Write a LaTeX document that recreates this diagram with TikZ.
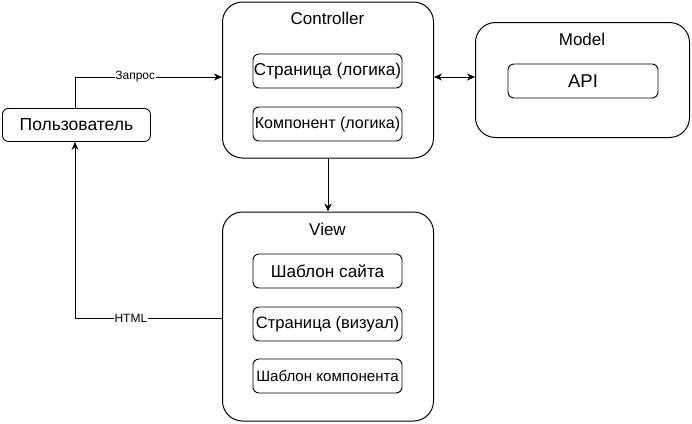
\documentclass[tikz,border=0pt]{standalone}
\usepackage{fontspec}
\setmainfont{Liberation Sans}
\usetikzlibrary{arrows.meta}
\begin{document}
\begin{tikzpicture}[x=1pt,y=-1pt,
  outer/.style={draw, line width=1pt, rounded corners=20pt},
  inner/.style={draw, line width=0.9pt, rounded corners=6pt, minimum width=149pt, minimum height=34pt, inner sep=0pt, font=\fontsize{17.2}{20}\selectfont},
  ttl/.style={font=\fontsize{17}{20}\selectfont, inner sep=0pt},
  conn/.style={draw, line width=0.9pt, -{Stealth[length=8pt,width=7pt]}},
  lbl/.style={font=\fontsize{12}{14}\selectfont, fill=white, inner sep=0.5pt}]
\useasboundingbox (0,0) rectangle (692,423);
% Controller
\node[outer, minimum width=211pt, minimum height=156pt, anchor=north west] (ctrl) at (222,1.5) {};
\node[ttl] (ctrlt) at (327.5,18) {Controller};
\node[inner] (sl) at (327.5,71) {Страница (логика)};
\node[inner, font=\fontsize{16}{19}\selectfont] (kl) at (327.5,124) {Компонент (логика)};
% Model
\node[outer, minimum width=214pt, minimum height=115pt, anchor=north west] (model) at (475,22) {};
\node[ttl] (modelt) at (582,39) {Model};
\node[inner, minimum width=150pt, font=\fontsize{18.5}{21}\selectfont] (api) at (583,81) {API};
% View
\node[outer, minimum width=211pt, minimum height=209pt, anchor=north west] (view) at (222,211.5) {};
\node[ttl] (viewt) at (327.5,229) {View};
\node[inner] (ss) at (327.5,271) {Шаблон сайта};
\node[inner, font=\fontsize{16.6}{19}\selectfont] (sv) at (327.5,324) {Страница (визуал)};
\node[inner, font=\fontsize{15.1}{18}\selectfont] (sk) at (327.5,376) {Шаблон компонента};
% User
\node[draw, line width=0.9pt, rounded corners=6pt, minimum width=148pt, minimum height=33pt, inner sep=0pt, font=\fontsize{17.5}{20}\selectfont, anchor=north west] (user) at (2,108) {Пользователь};
% connectors
\coordinate (c1) at (75,77);
\coordinate (c2) at (75,318);
\draw[conn] (user.north -| c1) -- (c1) -- node[lbl, pos=0.41]{Запрос} (ctrl.west |- c1);
\draw[conn] (view.west |- c2) -- node[lbl, pos=0.62]{HTML} (c2) -- (user.south -| c2);
\draw[conn] (ctrl.south) -- (view.north);
\draw[line width=0.9pt, {Stealth[length=8pt,width=7pt]}-{Stealth[length=8pt,width=7pt]}] (ctrl.east |- c1) -- (model.west |- c1);
\end{tikzpicture}
\end{document}
